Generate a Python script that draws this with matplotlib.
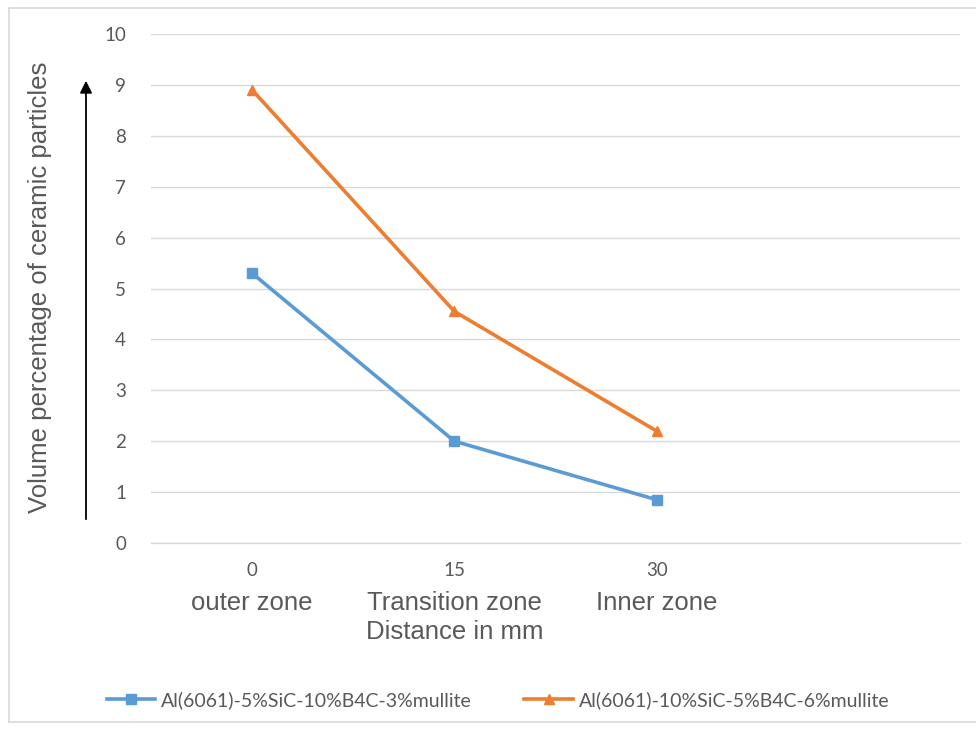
import matplotlib.pyplot as plt
from matplotlib.lines import Line2D

# Data
distance = ['0', '15', '30', '']
zones = ['outer zone', 'Transition zone', 'Inner zone']
alloy_a = [5.3, 2.0, 0.85]
alloy_b = [8.9, 4.55, 2.2]
label_a = 'Al(6061)-5%SiC-10%B4C-3%mullite'
label_b = 'Al(6061)-10%SiC-5%B4C-6%mullite'

blue = '#5B9BD5'
orange = '#ED7D31'
grey_text = '#595959'

W, H = 976, 734
fig = plt.figure(figsize=(W / 100, H / 100), dpi=100)

# chart area frame (left, top, bottom edges)
left, top, bottom = 9 / W, 1 - 8 / H, 1 - 722 / H
for xs, ys in [([left, left], [bottom, top]), ([left, 1], [top, top]), ([left, 1], [bottom, bottom])]:
    fig.add_artist(Line2D(xs, ys, transform=fig.transFigure, color='#D9D9D9', linewidth=1.2))

ax = fig.add_axes([151 / W, 1 - 543 / H, 809 / W, 509 / H])

x = range(len(alloy_a))
ax.plot(x, alloy_a, color=blue, linewidth=2.6, marker='s', markersize=7, label=label_a)
ax.plot(x, alloy_b, color=orange, linewidth=2.6, marker='^', markersize=7, label=label_b)

ax.set_xlim(-0.5, len(distance) - 0.5)
ax.set_ylim(0, 10)
ax.set_yticks(range(0, 11))
ax.set_xticks(range(len(distance)))
ax.set_xticklabels(distance)
ax.grid(axis='y', color='#D9D9D9', linewidth=1)
ax.axhline(0, color='#D9D9D9', linewidth=1, clip_on=False, zorder=0.5)
ax.set_axisbelow(True)
for s in ax.spines.values():
    s.set_visible(False)
ax.tick_params(length=0, labelsize=13.5, labelcolor=grey_text, pad=14)
ax.tick_params(axis='y', pad=18)
for t in ax.get_xticklabels() + ax.get_yticklabels():
    t.set_family('Lato')

# zone names under the distance ticks
for i, z in enumerate(zones):
    ax.annotate(z, xy=(i, 0), xycoords=('data', 'axes fraction'),
                xytext=(0, -60), textcoords='offset pixels',
                ha='center', va='center', fontsize=18.5,
                family='Liberation Sans', color=grey_text)
ax.annotate('Distance in mm', xy=(1, 0), xycoords=('data', 'axes fraction'),
            xytext=(0, -89), textcoords='offset pixels',
            ha='center', va='center', fontsize=18.5,
            family='Liberation Sans', color=grey_text)

fig.text(40 / W, 1 - 287 / H, 'Volume percentage of ceramic particles',
         rotation=90, ha='center', va='center', fontsize=18.5,
         family='Liberation Sans', color=grey_text)

# arrow beside the y label
fig.add_artist(plt.Annotation('', xy=(86 / W, 1 - 78 / H), xycoords='figure fraction',
                              xytext=(86 / W, 1 - 522 / H), textcoords='figure fraction',
                              arrowprops=dict(arrowstyle='-|>', color='black',
                                              linewidth=1.3, mutation_scale=18)))

leg = fig.legend(loc='center', bbox_to_anchor=(498 / W, 1 - 700 / H), ncol=2,
                 frameon=False, prop={'family': 'Lato', 'size': 14},
                 handlelength=2.5, handletextpad=0.3, columnspacing=2.7)
for t in leg.get_texts():
    t.set_color(grey_text)

fig.savefig('out.png', dpi=100)
